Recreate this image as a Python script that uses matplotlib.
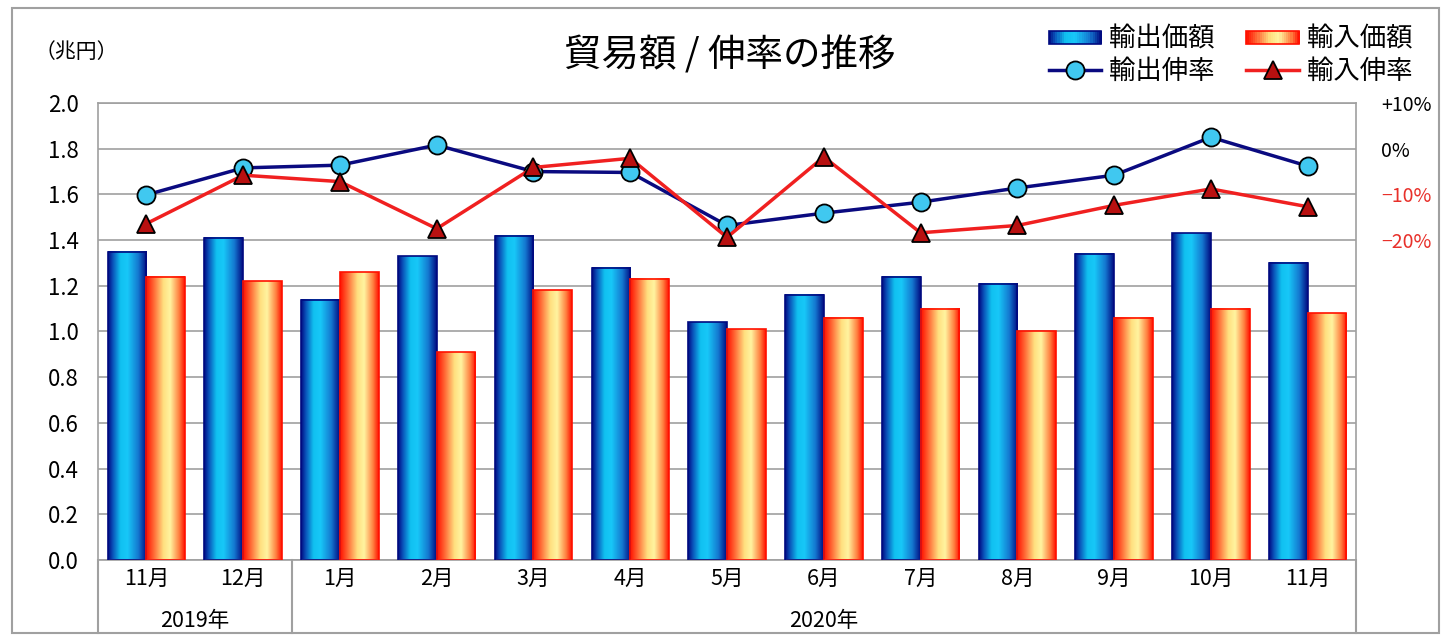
import numpy as np
import matplotlib
matplotlib.use("Agg")
import matplotlib.pyplot as plt
from matplotlib.colors import LinearSegmentedColormap
from matplotlib.patches import Rectangle
from matplotlib.lines import Line2D
from matplotlib.legend_handler import HandlerBase

plt.rcParams['font.family'] = ['Noto Sans CJK JP', 'DejaVu Sans']

MONTHS = ["11月", "12月", "1月", "2月", "3月", "4月", "5月", "6月", "7月", "8月", "9月", "10月", "11月"]
YEARS = ["2019年", "2020年"]
YEAR_SPAN = [(0, 1), (2, 12)]

export_value = [1.35, 1.41, 1.14, 1.33, 1.42, 1.28, 1.04, 1.16, 1.24, 1.21, 1.34, 1.43, 1.30]
import_value = [1.24, 1.22, 1.26, 0.91, 1.18, 1.23, 1.01, 1.06, 1.10, 1.00, 1.06, 1.10, 1.08]
export_rate = [-10.1, -4.2, -3.6, 0.8, -5.0, -5.2, -16.8, -14.1, -11.7, -8.6, -5.8, 2.5, -3.8]
import_rate = [-16.4, -5.8, -7.2, -17.5, -4.1, -2.1, -19.4, -1.8, -18.4, -16.8, -12.4, -8.8, -12.7]

RIGHT_TICKS = [10, 0, -10, -20]
RIGHT_LABELS = ["+10%", "0%", "\u221210%", "\u221220%"]
RIGHT_COLORS = ["black", "black", "#e8302a", "#e8302a"]

blue_cmap = LinearSegmentedColormap.from_list(
    "blue_bar", [(0.0, "#000a80"), (0.12, "#0a50b8"), (0.32, "#10c0f0"),
                 (0.5, "#18c8f8"), (0.78, "#1478d0"), (1.0, "#000a80")])
orange_cmap = LinearSegmentedColormap.from_list(
    "orange_bar", [(0.0, "#ff1000"), (0.18, "#ff6030"), (0.45, "#ffe080"),
                   (0.62, "#fff4a0"), (0.85, "#ff8040"), (1.0, "#ff1000")])


class GradientHandler(HandlerBase):
    def __init__(self, cmap, edge):
        super().__init__()
        self.cmap = cmap
        self.edge = edge

    def create_artists(self, legend, orig_handle, xdescent, ydescent, width, height, fontsize, trans):
        arts = []
        n = 24
        h = height * 0.7
        y0 = -ydescent + (height - h) / 2
        for k in range(n):
            arts.append(Rectangle((-xdescent + width * k / n, y0), width / n + 0.3, h,
                                  facecolor=self.cmap((k + 0.5) / n), edgecolor='none',
                                  transform=trans))
        arts.append(Rectangle((-xdescent, y0), width, h, facecolor='none',
                              edgecolor=self.edge, lw=1.2, transform=trans))
        return arts


fig = plt.figure(figsize=(14.48, 6.37), dpi=100)
ax = fig.add_axes([0.0677, 0.1209, 0.8688, 0.7174])
ax2 = ax.twinx()

x = np.arange(len(MONTHS))
w = 0.4
grad = np.linspace(0, 1, 256).reshape(1, -1)

b1 = ax.bar(x - w / 2, export_value, w, facecolor='none', edgecolor='#000a80', lw=1.2, zorder=3)
b2 = ax.bar(x + w / 2, import_value, w, facecolor='none', edgecolor='#ff1000', lw=1.2, zorder=3)
for bars, cmap in [(b1, blue_cmap), (b2, orange_cmap)]:
    for p in bars:
        x0, y0 = p.get_x(), p.get_y()
        ax.imshow(grad, cmap=cmap, aspect='auto', zorder=2, interpolation='bilinear',
                  extent=[x0, x0 + p.get_width(), y0, y0 + p.get_height()])

ax.set_xlim(-0.5, len(MONTHS) - 0.5)
ax.set_ylim(0, 2.0)
ax.set_yticks(np.arange(0, 2.01, 0.2))
ax.set_yticklabels([f"{v:.1f}" for v in np.arange(0, 2.01, 0.2)], fontsize=16)
ax.yaxis.grid(True, color='#a0a0a0', lw=1.2)
ax.set_axisbelow(True)
ax.set_xticks(x)
ax.set_xticklabels(MONTHS, fontsize=15.5)
ax.tick_params(axis='x', length=0, pad=6)
ax.tick_params(axis='y', length=0, pad=14)
for s in ax.spines.values():
    s.set_color('#a0a0a0')
    s.set_linewidth(1.2)

# table lines under the axis
xt = ax.get_xaxis_transform()
ybot = -0.16
for xv in [-0.5, 1.5, len(MONTHS) - 0.5]:
    ax.plot([xv, xv], [0, ybot], color='#a0a0a0', lw=1.5, transform=xt, clip_on=False)
for label, (i0, i1) in zip(YEARS, YEAR_SPAN):
    ax.text((i0 + i1) / 2, -0.134, label, transform=xt, ha='center', va='center', fontsize=15.5)

# rate lines
ax2.plot(x, export_rate, color='#0a0a80', lw=2.5, marker='o', ms=13,
         mfc='#40c8f0', mec='black', mew=1.3, zorder=5)
ax2.plot(x, import_rate, color='#f02020', lw=2.5, marker='^', ms=13,
         mfc='#b81010', mec='black', mew=1.3, zorder=6)
ax2.set_ylim(-90, 10)
ax2.set_yticks(RIGHT_TICKS)
ax2.set_yticklabels(RIGHT_LABELS, fontsize=14)
for t, c in zip(ax2.get_yticklabels(), RIGHT_COLORS):
    t.set_color(c)
ax2.tick_params(axis='y', length=0, pad=18)
for s in ax2.spines.values():
    s.set_visible(False)

fig.text(0.504, 0.912, "貿易額 / 伸率の推移", ha='center', va='center', fontsize=27)
fig.text(0.024, 0.918, "（兆円）", ha='left', va='center', fontsize=15)

# legend
h_exp = Rectangle((0, 0), 1, 1)
h_imp = Rectangle((0, 0), 1, 1)
h_er = Line2D([], [], color='#0a0a80', lw=2.5, marker='o', ms=13, mfc='#40c8f0', mec='black', mew=1.3)
h_ir = Line2D([], [], color='#f02020', lw=2.5, marker='^', ms=13, mfc='#b81010', mec='black', mew=1.3)
fig.legend([h_exp, h_er, h_imp, h_ir], ["輸出価額", "輸出伸率", "輸入価額", "輸入伸率"],
           ncol=2, loc='upper right', bbox_to_anchor=(0.992, 0.997), frameon=False,
           fontsize=19, handlelength=2.0, handletextpad=0.3, columnspacing=1.2,
           labelspacing=0.2,
           handler_map={h_exp: GradientHandler(blue_cmap, '#000a80'),
                        h_imp: GradientHandler(orange_cmap, '#ff1000')})

# outer frame
fig.patches.append(Rectangle((0.008, 0.006), 0.986, 0.981, transform=fig.transFigure,
                             facecolor='none', edgecolor='#a0a0a0', lw=1.5))

fig.savefig("out.png", dpi=100)
